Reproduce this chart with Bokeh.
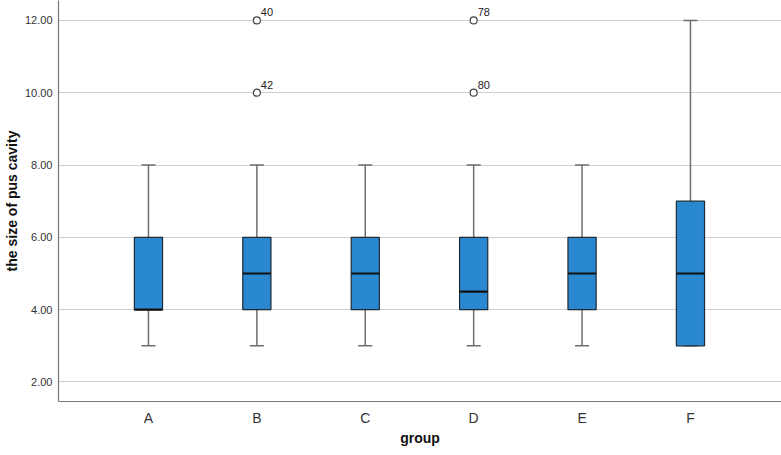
from bokeh.plotting import figure
from bokeh.models import Range1d, FixedTicker, ColumnDataSource
from bokeh.core.properties import value
from bokeh.embed import file_html
from bokeh.resources import INLINE

groups = ["A", "B", "C", "D", "E", "F"]
lower = [3, 3, 3, 3, 3, 3]
q1 = [4, 4, 4, 4, 4, 3]
median = [4, 5, 5, 4.5, 5, 5]
q3 = [6, 6, 6, 6, 6, 7]
upper = [8, 8, 8, 8, 8, 12]
out_group = ["B", "B", "D", "D"]
out_value = [12, 10, 12, 10]
out_label = ["40", "42", "78", "80"]
y_ticks = [2, 4, 6, 8, 10, 12]

xpos = [i + 1 for i in range(len(groups))]
bw = 0.26
cw = 0.13

p = figure(width=781, height=455, output_backend="svg", toolbar_location=None,
           x_range=Range1d(0.17, 6.84), y_range=Range1d(1.46, 12.55),
           min_border_left=58, min_border_bottom=54, min_border_top=0, min_border_right=0)
p.outline_line_color = None
p.background_fill_color = "white"
p.border_fill_color = "white"

p.xgrid.visible = False
p.ygrid.grid_line_color = "#cfcfcf"
p.ygrid.grid_line_width = 1.2

p.yaxis.ticker = FixedTicker(ticks=y_ticks)
p.yaxis.major_label_overrides = {t: f"{t:.2f}" for t in y_ticks}
p.xaxis.ticker = FixedTicker(ticks=xpos)
p.xaxis.major_label_overrides = {x: g for x, g in zip(xpos, groups)}
for ax in (p.xaxis, p.yaxis):
    ax.axis_line_color = "#777777"
    ax.axis_line_width = 1.2
    ax.major_tick_line_color = None
    ax.minor_tick_line_color = None
    ax.major_tick_out = 0
    ax.major_tick_in = 0
    ax.minor_tick_out = 0
    ax.minor_tick_in = 0
    ax.major_label_text_font = "Liberation Sans"
    ax.major_label_text_color = "#333333"
    ax.axis_label_text_font = "Liberation Sans"
    ax.axis_label_text_font_style = "bold"
    ax.axis_label_text_color = "#111111"
p.yaxis.major_label_text_font_size = "11px"
p.xaxis.major_label_text_font_size = "14px"
p.xaxis.major_label_standoff = 8
p.yaxis.major_label_standoff = 6
p.yaxis.axis_label = "the size of pus cavity"
p.xaxis.axis_label = "group"
p.yaxis.axis_label_text_font_size = "14px"
p.xaxis.axis_label_text_font_size = "14px"
p.xaxis.axis_label_standoff = 1
p.yaxis.axis_label_standoff = 2

src = ColumnDataSource(dict(x=xpos, lower=lower, q1=q1, median=median, q3=q3, upper=upper,
                            cl=[x - cw / 2 for x in xpos], cr=[x + cw / 2 for x in xpos],
                            ml=[x - bw / 2 for x in xpos], mr=[x + bw / 2 for x in xpos]))

wc = "#6e6e6e"
p.segment(x0="x", y0="q3", x1="x", y1="upper", source=src, line_color=wc, line_width=1.5)
p.segment(x0="x", y0="q1", x1="x", y1="lower", source=src, line_color=wc, line_width=1.5)
p.segment(x0="cl", y0="upper", x1="cr", y1="upper", source=src, line_color=wc, line_width=1.5)
p.segment(x0="cl", y0="lower", x1="cr", y1="lower", source=src, line_color=wc, line_width=1.5)
p.vbar(x="x", width=bw, top="q3", bottom="q1", source=src,
       fill_color="#2a88d0", line_color="#1e2a36", line_width=1.2)
p.segment(x0="ml", y0="median", x1="mr", y1="median", source=src, line_color="#111111", line_width=2.2)

ox = [xpos[groups.index(g)] for g in out_group]
osrc = ColumnDataSource(dict(x=ox, y=out_value, t=out_label))
p.scatter(x="x", y="y", source=osrc, size=7, marker="circle", fill_color="white",
          line_color="#444444", line_width=1.2)
p.text(x="x", y="y", text="t", source=osrc, x_offset=4, y_offset=-4,
       text_font=value("Liberation Sans"), text_font_size="11px", text_color="#222222",
       text_baseline="bottom", text_align="left")

open("out.html", "w").write(file_html(p, INLINE))
